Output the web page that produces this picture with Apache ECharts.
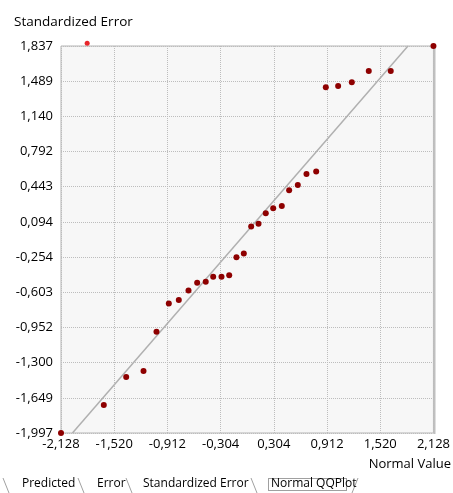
<!DOCTYPE html>
<html>
<head>
<meta charset="utf-8">
<script src="https://cdn.jsdelivr.net/npm/echarts@6/dist/echarts.min.js"></script>
<style>
html,body{margin:0;padding:0;background:#fff;}
#chart{width:453px;height:493px;}
</style>
</head>
<body>
<div id="chart"></div>
<script>
// Normal QQ plot values (normal value, standardized error)
var normalValues = [-2.128,-1.639,-1.383,-1.185,-1.037,-0.896,-0.782,-0.671,-0.572,-0.474,-0.389,-0.294,-0.206,-0.123,-0.039,0.045,0.129,0.212,0.297,0.395,0.479,0.578,0.677,0.788,0.898,1.039,1.195,1.389,1.640,2.128];
var standardizedErrors = [-1.997,-1.720,-1.443,-1.383,-0.994,-0.714,-0.680,-0.585,-0.509,-0.499,-0.450,-0.450,-0.433,-0.255,-0.219,0.048,0.075,0.181,0.230,0.253,0.409,0.461,0.570,0.593,1.428,1.441,1.478,1.590,1.590,1.837];
var selectedPoint = [[-1.829, 1.864]];
var refLine = [[-1.997,-1.997],[1.837,1.837]];
var xTicks = [-2.128,-1.520,-0.912,-0.304,0.304,0.912,1.520,2.128];
var yTicks = [1.837,1.489,1.140,0.792,0.443,0.094,-0.254,-0.603,-0.952,-1.300,-1.649,-1.997];
var tabs = ["Predicted","Error","Standardized Error","Normal QQPlot"];
var yTitle = "Standardized Error";
var xTitle = "Normal Value";

var pts = normalValues.map(function(x,i){return [x, standardizedErrors[i]];});
function fmt(v){ return (Math.round(v*1000)/1000).toFixed(3).replace('.',','); }
var FONT = 'Open Sans';

var chart = echarts.init(document.getElementById('chart'));
var splitStyle = {show:true, lineStyle:{color:'#bdbdbd', width:1, type:[1,1]}};
chart.setOption({
  animation:false,
  backgroundColor:'#ffffff',
  grid:{left:61, top:46, width:373, height:387, show:true, backgroundColor:'#f7f7f7', borderColor:'#b4b4b4', borderWidth:1},
  xAxis:{
    type:'value', min:-2.128, max:2.128,
    axisLine:{show:false}, axisTick:{show:false, customValues:xTicks},
    axisLabel:{customValues:xTicks, formatter:fmt, fontFamily:FONT, fontSize:13, color:'#000', margin:5, showMinLabel:true, showMaxLabel:true},
    splitLine:splitStyle
  },
  yAxis:{
    type:'value', min:-1.997, max:1.837,
    axisLine:{show:false}, axisTick:{show:false, customValues:yTicks},
    axisLabel:{customValues:yTicks, formatter:fmt, fontFamily:FONT, fontSize:13, color:'#000', margin:8, showMinLabel:true, showMaxLabel:true},
    splitLine:splitStyle
  },
  series:[
    {type:'line', data:refLine, symbol:'none', lineStyle:{color:'#b0b0b0', width:1.5}, silent:true, z:2},
    {type:'scatter', data:pts, symbol:'circle', symbolSize:6, itemStyle:{color:'#8e0000', opacity:1}, clip:false, z:3},
    {type:'scatter', data:selectedPoint, symbol:'circle', symbolSize:5, itemStyle:{color:'#e8262b', opacity:1}, clip:false, z:3}
  ],
  graphic:[
    {type:'line', shape:{x1:434.5, y1:46, x2:434.5, y2:434}, style:{stroke:'#c0c0c0', lineWidth:2}, z:1},
    {type:'text', left:14, top:15, style:{text:yTitle, font:'13.5px "Open Sans"', fill:'#000'}},
    {type:'text', right:2, top:458, style:{text:xTitle, font:'13px "Open Sans"', fill:'#000'}},
    {type:'rect', shape:{x:262, y:476, width:96, height:17}, style:{fill:'#ffffff', stroke:null}},
    {type:'line', shape:{x1:3, y1:478, x2:9, y2:493}, style:{stroke:'#a0a0a0', lineWidth:1}},
    {type:'line', shape:{x1:78, y1:478, x2:84, y2:493}, style:{stroke:'#a0a0a0', lineWidth:1}},
    {type:'line', shape:{x1:126, y1:478, x2:132, y2:493}, style:{stroke:'#a0a0a0', lineWidth:1}},
    {type:'line', shape:{x1:251, y1:478, x2:257, y2:493}, style:{stroke:'#a0a0a0', lineWidth:1}},
    {type:'line', shape:{x1:352, y1:493, x2:358, y2:478}, style:{stroke:'#a0a0a0', lineWidth:1}},
    {type:'rect', shape:{x:268.5, y:478.5, width:78, height:12}, style:{fill:null, stroke:'#404040', lineWidth:1, lineDash:[1,1]}},
    {type:'text', left:22, top:478, style:{text:tabs[0], font:'12px "Open Sans"', fill:'#000'}},
    {type:'text', left:97, top:478, style:{text:tabs[1], font:'12px "Open Sans"', fill:'#000'}},
    {type:'text', left:143, top:478, style:{text:tabs[2], font:'12px "Open Sans"', fill:'#000'}},
    {type:'text', left:271, top:478, style:{text:tabs[3], font:'12px "Open Sans"', fill:'#000'}}
  ]
});
</script>
</body>
</html>
